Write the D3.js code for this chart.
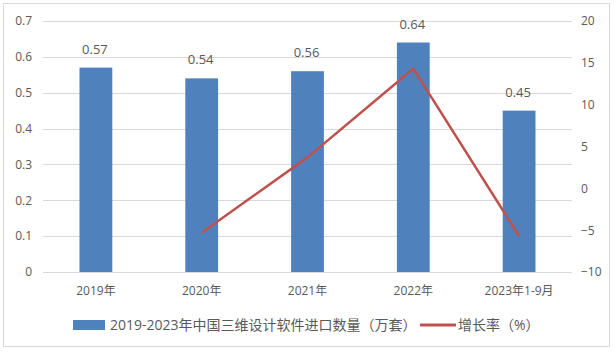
<!DOCTYPE html>
<html lang="zh">
<head>
<meta charset="UTF-8"/>
<title>三维设计软件进口数量</title>
<script src="https://d3js.org/d3.v7.min.js"></script>
<style>
  body { margin: 0; background: #fff; }
  svg text { font-family: "Open Sans", "Noto Sans CJK SC", sans-serif; fill: #595959; }
</style>
</head>
<body>
<script>
var categories = ["2019年", "2020年", "2021年", "2022年", "2023年1-9月"];
var quantity = [0.57, 0.54, 0.56, 0.64, 0.45];
var growth = [null, -5.3, 3.7, 14.3, -5.7];
var leftTicks = [0, 0.1, 0.2, 0.3, 0.4, 0.5, 0.6, 0.7];
var rightTicks = [-10, -5, 0, 5, 10, 15, 20];
var barName = "2019-2023年中国三维设计软件进口数量（万套）";
var lineName = "增长率（%）";

var w = 616, h = 352;
var plotLeft = 43, plotRight = 572, plotTop = 21, plotBottom = 272;

var svg = d3.select("body").append("svg")
    .attr("width", w)
    .attr("height", h);

svg.append("rect")
    .attr("x", 3.5).attr("y", 3.5)
    .attr("width", 606).attr("height", 343)
    .attr("fill", "#fff")
    .attr("stroke", "#d9d9d9");

var x = d3.scaleBand()
    .domain(categories)
    .range([plotLeft, plotRight])
    .paddingInner(0.69)
    .paddingOuter(0.345);

var y = d3.scaleLinear().domain([0, 0.7]).range([plotBottom, plotTop]);
var y2 = d3.scaleLinear().domain([-10, 20]).range([plotBottom, plotTop]);

// gridlines
svg.append("g")
    .selectAll("line")
    .data(leftTicks)
    .enter()
    .append("line")
    .attr("x1", plotLeft).attr("x2", plotRight)
    .attr("y1", function(d) { return Math.round(y(d)) + 0.5; })
    .attr("y2", function(d) { return Math.round(y(d)) + 0.5; })
    .attr("stroke", "#d9d9d9");

// left axis
var yAxis = svg.append("g")
    .attr("transform", "translate(" + (plotLeft - 8) + ",0)")
    .call(d3.axisLeft(y).tickValues(leftTicks).tickSize(0).tickFormat(function(d) { return d === 0 ? "0" : d3.format(".1f")(d); }));
yAxis.select(".domain").remove();
yAxis.selectAll("text").attr("font-size", 12).attr("fill", "#595959");

// right axis
var y2Axis = svg.append("g")
    .attr("transform", "translate(" + (plotRight + 6) + ",0)")
    .call(d3.axisRight(y2).tickValues(rightTicks).tickSize(0));
y2Axis.select(".domain").remove();
y2Axis.selectAll("text").attr("font-size", 12).attr("fill", "#595959");

// x axis
var xAxis = svg.append("g")
    .attr("transform", "translate(0," + plotBottom + ")")
    .call(d3.axisBottom(x).tickSize(0).tickPadding(14));
xAxis.select(".domain").remove();
xAxis.selectAll("text").attr("font-size", 12).attr("fill", "#595959");

// bars
svg.selectAll(".bar")
    .data(quantity)
    .enter()
    .append("rect")
    .attr("class", "bar")
    .attr("x", function(d, i) { return x(categories[i]); })
    .attr("y", function(d) { return y(d); })
    .attr("width", x.bandwidth())
    .attr("height", function(d) { return y(0) - y(d); })
    .attr("fill", "#4f81bd");

// bar labels
svg.selectAll(".lbl")
    .data(quantity)
    .enter()
    .append("text")
    .attr("class", "lbl")
    .attr("x", function(d, i) { return x(categories[i]) + x.bandwidth() / 2 - 1; })
    .attr("y", function(d) { return y(d) - 14; })
    .attr("text-anchor", "middle")
    .attr("font-size", 13)
    .attr("fill", "#404040")
    .text(function(d) { return d; });

// growth line
var lineData = growth.map(function(d, i) { return { c: categories[i], v: d }; })
    .filter(function(d) { return d.v !== null; });
var line = d3.line()
    .x(function(d) { return x(d.c) + x.bandwidth() / 2; })
    .y(function(d) { return y2(d.v); });
svg.append("path")
    .datum(lineData)
    .attr("d", line)
    .attr("fill", "none")
    .attr("stroke", "#c0504d")
    .attr("stroke-width", 2.5)
    .attr("stroke-linejoin", "round");

// legend
var lg = svg.append("g").attr("transform", "translate(0,325)");
lg.append("rect")
    .attr("x", 73).attr("y", -5)
    .attr("width", 32).attr("height", 10)
    .attr("fill", "#4f81bd");
lg.append("text")
    .attr("x", 110).attr("y", 0)
    .attr("dy", "0.35em")
    .attr("font-size", 14)
    .text(barName);
lg.append("line")
    .attr("x1", 420).attr("x2", 456)
    .attr("y1", 0).attr("y2", 0)
    .attr("stroke", "#c0504d")
    .attr("stroke-width", 3);
lg.append("text")
    .attr("x", 458).attr("y", 0)
    .attr("dy", "0.35em")
    .attr("font-size", 14)
    .text(lineName);
</script>
</body>
</html>
